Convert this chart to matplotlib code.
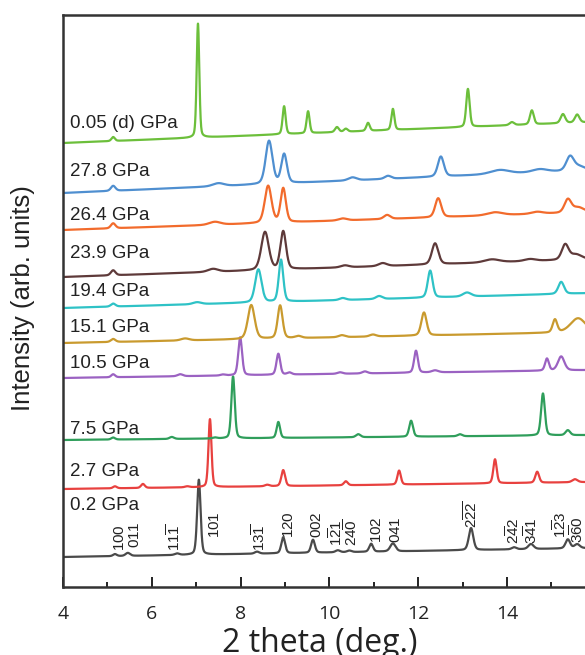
import numpy as np
import matplotlib
matplotlib.use("Agg")
import matplotlib.pyplot as plt

# ---- data: peak list per pressure as (2theta, height, fwhm) ----
labels = ["0.2 GPa", "2.7 GPa", "7.5 GPa", "10.5 GPa", "15.1 GPa",
          "19.4 GPa", "23.9 GPa", "26.4 GPa", "27.8 GPa", "0.05 (d) GPa"]
colors = ["#4a4a4a", "#e8413f", "#2f9e5b", "#9b62c2", "#c99a2e",
          "#2ec2c6", "#5e3a3a", "#f26b2c", "#4f8fd0", "#6cbf3b"]
base_left = [30, 98, 147, 209, 244, 279, 310, 357, 394, 444]
base_right = [39, 105, 152, 217, 255, 294, 328, 375, 417, 465]
label_y = [82, 116, 158, 223, 259, 296, 333, 372, 415, 463]

peaks_0_2 = [(5.17, 2, 0.10), (5.46, 3, 0.12), (6.57, 1.5, 0.12), (7.06, 75, 0.09),
             (8.37, 2, 0.12), (8.96, 16, 0.10), (9.63, 13, 0.10), (10.19, 2, 0.12),
             (10.45, 1.5, 0.12), (10.94, 8, 0.10), (11.43, 8, 0.14), (13.19, 22, 0.12),
             (14.16, 2, 0.12), (14.54, 5, 0.14), (15.37, 9, 0.12), (15.58, 4, 0.14)]
peaks_2_7 = [(5.17, 2, 0.10), (5.80, 4, 0.10), (6.80, 1, 0.12), (7.31, 68, 0.08),
             (8.60, 1.5, 0.12), (8.96, 16, 0.10), (10.37, 4, 0.10), (11.57, 14, 0.09),
             (13.73, 24, 0.09), (14.68, 11, 0.10), (15.53, 3, 0.14)]
peaks_7_5 = [(5.13, 2, 0.10), (6.45, 2, 0.12), (7.42, 1, 0.12), (7.83, 62, 0.09),
             (8.85, 16, 0.09), (10.65, 3, 0.12), (11.84, 16, 0.10), (12.94, 2, 0.12),
             (14.81, 42, 0.10), (15.37, 5, 0.12)]
peaks_10_5 = [(5.13, 3, 0.10), (6.64, 2, 0.14), (7.60, 1, 0.12), (7.99, 38, 0.10),
              (8.85, 21, 0.10), (9.10, 2, 0.12), (10.24, 1.5, 0.14), (10.80, 2, 0.14),
              (11.95, 22, 0.10), (12.38, 2, 0.17), (14.90, 12, 0.10), (15.22, 14, 0.17)]
peaks_15_1 = [(5.13, 3, 0.12), (6.75, 2, 0.22), (8.24, 34, 0.18), (8.89, 33, 0.13),
              (9.30, 2, 0.17), (10.28, 2, 0.17), (10.98, 2, 0.17), (12.13, 23, 0.14),
              (15.08, 13, 0.12), (15.60, 14, 0.40)]
peaks_19_4 = [(5.13, 3, 0.12), (7.02, 2, 0.22), (8.40, 33, 0.17), (8.91, 42, 0.12),
              (10.30, 2, 0.17), (11.12, 3, 0.17), (12.27, 27, 0.13), (13.10, 4, 0.22),
              (15.22, 12, 0.15)]
peaks_23_9 = [(5.13, 5, 0.12), (7.38, 3, 0.27), (8.55, 38, 0.20), (8.96, 38, 0.15),
              (10.35, 2, 0.22), (11.20, 3, 0.22), (12.38, 21, 0.17), (13.66, 3, 0.40),
              (14.52, 2, 0.30), (15.31, 15, 0.18), (15.55, 5, 0.30)]
peaks_26_4 = [(5.13, 5, 0.12), (7.42, 3, 0.30), (8.62, 37, 0.18), (8.96, 34, 0.14),
              (10.30, 2, 0.22), (11.30, 4, 0.17), (12.45, 19, 0.16), (13.73, 3, 0.40),
              (14.68, 2, 0.30), (15.37, 13, 0.18), (15.60, 5, 0.30)]
peaks_27_8 = [(5.13, 5, 0.12), (7.50, 3, 0.30), (8.64, 43, 0.18), (8.98, 29, 0.15),
              (10.52, 3, 0.22), (11.32, 3, 0.17), (12.51, 20, 0.16), (13.84, 4, 0.50),
              (14.74, 3, 0.40), (15.42, 14, 0.20), (15.62, 4, 0.30)]
peaks_0_05d = [(5.13, 4, 0.09), (7.04, 114, 0.07), (8.98, 28, 0.08), (9.52, 22, 0.08),
               (10.17, 5, 0.10), (10.37, 3, 0.10), (10.87, 8, 0.09), (11.43, 21, 0.08),
               (13.12, 38, 0.09), (14.11, 3, 0.12), (14.56, 14, 0.10), (15.26, 9, 0.12),
               (15.58, 8, 0.12)]
peak_sets = [peaks_0_2, peaks_2_7, peaks_7_5, peaks_10_5, peaks_15_1,
             peaks_19_4, peaks_23_9, peaks_26_4, peaks_27_8, peaks_0_05d]

# Miller indices of the 0.2 GPa pattern: (2theta, label bottom, text)
hkl_pos = [5.28, 5.60, 6.52, 7.42, 8.44, 9.07, 9.72, 10.16, 10.50,
           11.05, 11.48, 13.20, 14.16, 14.56, 15.22, 15.60]
hkl_y = [36, 39, 36, 49, 36, 49, 49, 41, 41, 44, 44, 59, 43, 43, 49, 44]
hkl_text = [r"100", r"011", r"11\overline{1}", r"101", r"13\overline{1}", r"120",
            r"002", r"1\overline{2}1", r"24\overline{0}", r"102", r"041",
            r"2\overline{22}", r"2\overline{4}2", r"3\overline{4}1",
            r"1\overline{2}3", r"3\overline{6}0"]

plt.rcParams["mathtext.fontset"] = "custom"
plt.rcParams["mathtext.rm"] = "Liberation Sans"
plt.rcParams["mathtext.it"] = "Liberation Sans"


def pattern(x, peaks, b0, b1, eta=0.3):
    y = b0 + (b1 - b0) * (x - x[0]) / (x[-1] - x[0])
    for c, h, w in peaks:
        g = np.exp(-4 * np.log(2) * ((x - c) / w) ** 2)
        lz = 1.0 / (1.0 + 4 * ((x - c) / w) ** 2)
        y = y + h * ((1 - eta) * g + eta * lz)
    return y


W, H = 585, 655
fig = plt.figure(figsize=(W / 100, H / 100), dpi=100)
xmin, xmax = 4.0, 16.0
px_per_unit = 44.4
ax_left, ax_bottom, ax_top = 63, 68, 640
ax = fig.add_axes([ax_left / W, ax_bottom / H,
                   (xmax - xmin) * px_per_unit / W, (ax_top - ax_bottom) / H])

x = np.arange(4.0, 15.9, 0.004)
for lab, col, b0, b1, ly, pk in zip(labels, colors, base_left, base_right,
                                     label_y, peak_sets):
    ax.plot(x, pattern(x, pk, b0, b1), color=col, lw=1.6, solid_joinstyle="round")
    ax.text(4.16, ly, lab, fontsize=13.5, family="Liberation Sans",
            color="#222222", va="center", ha="left")

for xp, yp, t in zip(hkl_pos, hkl_y, hkl_text):
    ax.text(xp, yp, r"$\mathrm{" + t + "}$", rotation=90, fontsize=11,
            ha="center", va="bottom", color="#222222")

ax.set_xlim(xmin, xmax)
ax.set_ylim(0, ax_top - ax_bottom)
ax.set_xticks(np.arange(4, 17, 2))
ax.set_xticks(np.arange(5, 17, 2), minor=True)
ax.set_yticks([])
ax.tick_params(axis="x", which="major", direction="in", length=7, width=1.4,
               pad=13, labelsize=14, colors="#222222")
ax.tick_params(axis="x", which="minor", direction="in", length=3.5, width=1.4,
               colors="#222222")
for lbl in ax.get_xticklabels():
    lbl.set_family("Open Sans")
for s in ax.spines.values():
    s.set_linewidth(1.8)
    s.set_color("#333333")

fig.text(320 / W, 3 / H, "2 theta (deg.)", fontsize=23, family="Open Sans",
         ha="center", va="baseline", color="#222222")
fig.text(23 / W, 1 - 298 / H, "Intensity (arb. units)", fontsize=18.5,
         family="Liberation Sans", rotation=90, ha="center", va="center",
         color="#222222")

fig.savefig("out.png", dpi=100)
